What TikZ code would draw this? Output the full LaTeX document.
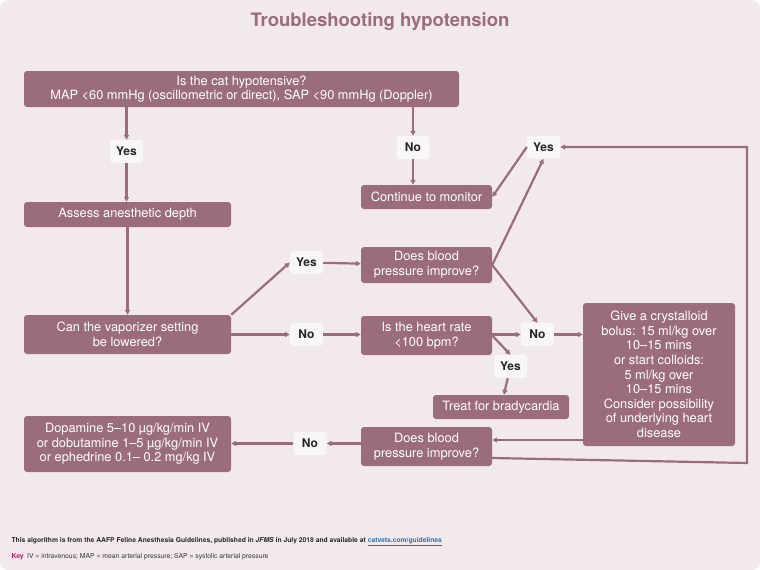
\documentclass[tikz,border=0pt]{standalone}
\usepackage{fontspec}
\setmainfont{TeX Gyre Heros}
\usepackage{xcolor}
\usepackage{tikz}
\usetikzlibrary{arrows.meta,calc}
\definecolor{MauveBox}{RGB}{155,109,124}
\definecolor{PinkBack}{RGB}{242,233,236}
\definecolor{PaleLabel}{RGB}{249,246,247}
\definecolor{MagentaKey}{RGB}{200,20,110}
\definecolor{BlueLink}{RGB}{40,110,190}

\begin{document}
\begin{tikzpicture}[x=1pt,y=-1pt,>={Triangle[length=5pt,width=5pt]},
  box/.style={fill=MauveBox,text=white,rounded corners=3pt,align=center,
    font=\fontsize{12.8}{14.6}\selectfont,inner sep=0pt},
  lbl/.style={fill=PaleLabel,text=black!85,rounded corners=3pt,inner sep=0pt,
    font=\bfseries\fontsize{12}{13}\selectfont,minimum width=33pt,minimum height=23pt},
  conn/.style={MauveBox,line width=2.2pt}]
  \useasboundingbox (0,0) rectangle (760,570);
  \fill[PinkBack,rounded corners=8pt] (0,0) rectangle (760,570);
  \node[font=\bfseries\fontsize{18.5}{20}\selectfont,text=MauveBox] (title) at (380,22) {Troubleshooting hypotension};
  % boxes
  \node[box,minimum width=435pt,minimum height=36pt] (cat) at (241.5,89)
    {Is the cat hypotensive?\\MAP <60 mmHg (oscillometric or direct), SAP <90 mmHg (Doppler)};
  \node[box,minimum width=207pt,minimum height=25pt] (assess) at (127.5,214.5) {Assess anesthetic depth};
  \node[box,minimum width=207pt,minimum height=39pt] (vapor) at (127.5,334.5) {Can the vaporizer setting\\be lowered?};
  \node[box,minimum width=131pt,minimum height=24pt] (monitor) at (426.5,197) {Continue to monitor};
  \node[box,minimum width=131pt,minimum height=36pt] (improveA) at (426.5,265) {Does blood\\pressure improve?};
  \node[box,minimum width=131pt,minimum height=39pt] (heart) at (426.5,335.5) {Is the heart rate\\<100 bpm?};
  \node[box,minimum width=152pt,minimum height=143pt] (bolus) at (659,374.5)
    {Give a crystalloid\\bolus: 15 ml/kg over\\10–15 mins\\or start colloids:\\5 ml/kg over\\10–15 mins\\Consider possibility\\of underlying heart\\disease};
  \node[box,minimum width=136pt,minimum height=24pt] (treat) at (501,407) {Treat for bradycardia};
  \node[box,minimum width=131pt,minimum height=39pt] (improveB) at (426.5,446.5) {Does blood\\pressure improve?};
  \node[box,minimum width=207pt,minimum height=56pt] (drugs) at (127.5,444)
    {Dopamine 5–10 µg/kg/min IV\\or dobutamine 1–5 µg/kg/min IV\\or ephedrine 0.1– 0.2 mg/kg IV};
  % yes / no
  \node[lbl] (yesA) at (126.5,151.5) {Yes};
  \node[lbl] (noA) at (413,147.5) {No};
  \node[lbl] (yesB) at (543.5,147) {Yes};
  \node[lbl] (yesC) at (306.5,262.5) {Yes};
  \node[lbl] (noB) at (306.5,334.5) {No};
  \node[lbl] (noC) at (537.5,334.5) {No};
  \node[lbl] (yesD) at (510.5,366.5) {Yes};
  \node[lbl] (noD) at (310,443.5) {No};
  \coordinate (back) at (747,463);
  % connectors
  \draw[conn,->] (yesA |- cat.south) -- (yesA);
  \draw[conn,->] (yesA) -- (yesA |- assess.north);
  \draw[conn,->] (assess) -- (assess |- vapor.north);
  \draw[conn,->] (noA |- cat.south) -- (noA);
  \draw[conn,->] (noA) -- (noA |- monitor.north);
  \draw[conn,->] (vapor.north east) -- (yesC.west);
  \draw[conn,->] (yesC) -- (improveA);
  \draw[conn,->] (vapor.east |- noB) -- (noB);
  \draw[conn,->] (noB) -- (heart.west |- noB);
  \draw[conn,->] (improveA.east) -- (yesB.south);
  \draw[conn,->] (yesB.west) -- (monitor.east);
  \draw[conn,->] (improveA.east) -- (noC.north);
  \draw[conn,->] (heart.east |- noC) -- (noC);
  \draw[conn,->] (noC) -- (bolus.west |- noC);
  \draw[conn,->] (heart.east) -- (yesD.north);
  \draw[conn,->] (yesD) -- (treat);
  \draw[conn,->] (bolus.west |- 0,440) -- (improveB.east |- 0,440);
  \draw[conn,->] ([yshift=-11.5pt]improveB.east) -- (back) -- (back |- yesB) -- (yesB.east);
  \draw[conn,->] (improveB.west |- noD) -- (noD);
  \draw[conn,->] (noD) -- (drugs.east |- noD);
  % footer
  \node[anchor=west,font=\bfseries\fontsize{6.75}{8}\selectfont,text=black!85] (source) at (8,542)
    {This algorithm is from the AAFP Feline Anesthesia Guidelines, published in \textit{JFMS} in July 2018 and available at \textcolor{BlueLink}{\underline{catvets.com/guidelines}}};
  \node[anchor=west,font=\fontsize{6.8}{8}\selectfont,text=black!80] (key) at (8,557)
    {\textcolor{MagentaKey}{\textbf{Key}}\enspace IV = intravenous; MAP = mean arterial pressure; SAP = systolic arterial pressure};
\end{tikzpicture}
\end{document}
